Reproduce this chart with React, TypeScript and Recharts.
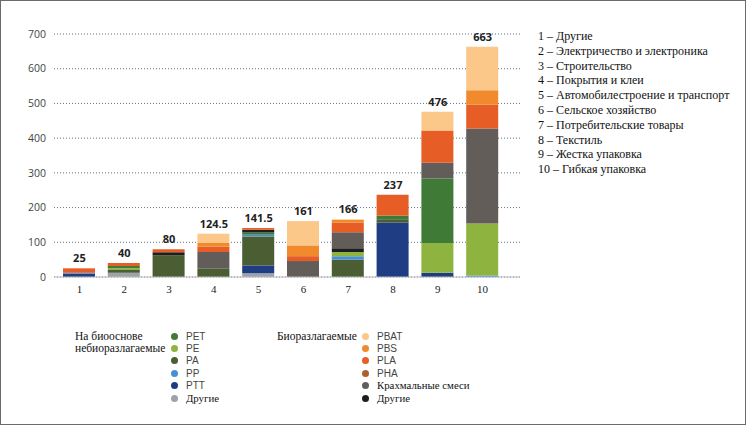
import { Bar, CartesianGrid, ComposedChart, LabelList, Line, XAxis, YAxis } from 'recharts'

const categories = ['1', '2', '3', '4', '5', '6', '7', '8', '9', '10']
const totals = [25, 40, 80, 124.5, 141.5, 161, 166, 237, 476, 663]

// bio-based, non-biodegradable
const nonBioOther = [0, 12, 0, 0, 11, 0, 0, 0, 0, 0]
const ptt = [10, 0, 0, 0, 22, 0, 0, 157, 12, 0]
const pa = [0, 8, 63, 24, 84, 0, 50, 9, 0, 0]
const pp = [2, 0, 0, 0, 5, 0, 10, 0, 0, 4]
const pe = [0, 5, 0, 0, 0, 0, 12, 0, 86, 150]
const pet = [0, 7, 0, 0, 6, 0, 0, 11, 186, 0]
// biodegradable
const bioOther = [0, 0, 8, 0, 8, 0, 11, 0, 0, 0]
const starch = [0, 0, 0, 48, 0, 46, 46, 0, 45, 274]
const pha = [0, 0, 0, 0, 0, 0, 0, 0, 0, 0]
const pla = [13, 8, 9, 16, 5.5, 14, 27, 60, 93, 69]
const pbs = [0, 0, 0, 10, 0, 31, 8, 0, 0, 41]
const pbat = [0, 0, 0, 26.5, 0, 70, 2, 0, 54, 125]

const yTicks = [0, 100, 200, 300, 400, 500, 600, 700]

const sectors = [
  '1 – Другие',
  '2 – Электричество и электроника',
  '3 – Строительство',
  '4 – Покрытия и клеи',
  '5 – Автомобилестроение и транспорт',
  '6 – Сельское хозяйство',
  '7 – Потребительские товары',
  '8 – Текстиль',
  '9 – Жестка упаковка',
  '10 – Гибкая упаковка',
]

const series = [
  { key: 'nonBioOther', name: 'Другие', color: '#9ea2aa', values: nonBioOther },
  { key: 'PTT', name: 'PTT', color: '#1f3d82', values: ptt },
  { key: 'PA', name: 'PA', color: '#4a5d33', values: pa },
  { key: 'PP', name: 'PP', color: '#4a8fd2', values: pp },
  { key: 'PE', name: 'PE', color: '#8fb33f', values: pe },
  { key: 'PET', name: 'PET', color: '#3f7b37', values: pet },
  { key: 'bioOther', name: 'Другие', color: '#1e1e1e', values: bioOther },
  { key: 'starch', name: 'Крахмальные смеси', color: '#625d58', values: starch },
  { key: 'PHA', name: 'PHA', color: '#ad622d', values: pha },
  { key: 'PLA', name: 'PLA', color: '#e65e26', values: pla },
  { key: 'PBS', name: 'PBS', color: '#f08a2c', values: pbs },
  { key: 'PBAT', name: 'PBAT', color: '#fbc889', values: pbat },
]

const data = categories.map((c, i) => {
  const row: Record<string, number | string> = { cat: c, total: totals[i] }
  series.forEach((s) => {
    row[s.key] = s.values[i]
  })
  return row
})

const nonBioLegend = ['PET', 'PE', 'PA', 'PP', 'PTT', 'nonBioOther']
const bioLegend = ['PBAT', 'PBS', 'PLA', 'PHA', 'starch', 'bioOther']

const serif = '"Liberation Serif", "Times New Roman", serif'
const sans = '"Open Sans", "Noto Sans", sans-serif'
const codeFont = '"Liberation Sans", Arial, sans-serif'

function LegendColumn({ keys, left, top }: { keys: string[]; left: number; top: number }) {
  return (
    <div style={{ position: 'absolute', left, top }}>
      {keys.map((k) => {
        const s = series.find((x) => x.key === k)!
        const cyr = /[А-я]/.test(s.name)
        return (
          <div key={k} style={{ height: 12.4, display: 'flex', alignItems: 'center' }}>
            <span
              style={{
                width: 7,
                height: 7,
                borderRadius: '50%',
                background: s.color,
                display: 'inline-block',
                marginRight: 8,
                flexShrink: 0,
              }}
            />
            <span
              style={{
                fontFamily: cyr ? serif : codeFont,
                fontSize: cyr ? 10.8 : 10,
                lineHeight: '11px',
                color: cyr ? '#111' : '#444',
                whiteSpace: 'nowrap',
              }}
            >
              {s.name}
            </span>
          </div>
        )
      })}
    </div>
  )
}

export default function App() {
  return (
    <div
      style={{
        position: 'absolute',
        left: 0,
        top: 0,
        width: 746,
        height: 425,
        boxSizing: 'border-box',
        border: '1px solid #6a6a6a',
        background: '#fff',
        overflow: 'hidden',
      }}
    >
      <div style={{ position: 'absolute', left: -1, top: -1 }}>
        <ComposedChart
          width={746}
          height={307}
          data={data}
          margin={{ top: 34, right: 226, bottom: 0, left: 0 }}
          barCategoryGap={0}
        >
          <CartesianGrid vertical={false} stroke="#5f7389" strokeDasharray="1 2" />
          <XAxis
            dataKey="cat"
            height={30}
            padding={{ left: 3, right: 15 }}
            axisLine={{ stroke: '#bdbdbd' }}
            tickLine={false}
            tick={{ fontFamily: serif, fontSize: 11, fill: '#222' }}
          />
          <YAxis
            width={54}
            domain={[0, 700]}
            ticks={yTicks}
            axisLine={false}
            tickLine={false}
            tick={{ fontFamily: sans, fontSize: 10.5, fill: '#444' }}
          />
          {series.map((s) => (
            <Bar
              key={s.key}
              dataKey={s.key}
              stackId="a"
              fill={s.color}
              barSize={32}
              isAnimationActive={false}
            />
          ))}
          <Line
            dataKey="total"
            stroke="none"
            dot={false}
            activeDot={false}
            isAnimationActive={false}
          >
            <LabelList
              dataKey="total"
              position="top"
              offset={6}
              style={{ fontFamily: sans, fontSize: 11, fontWeight: 700, fill: '#222' }}
            />
          </Line>
        </ComposedChart>
      </div>

      <div
        style={{
          position: 'absolute',
          left: 537,
          top: 28,
          fontFamily: serif,
          fontSize: 12,
          lineHeight: '14.8px',
          color: '#111',
          whiteSpace: 'nowrap',
        }}
      >
        {sectors.map((t) => (
          <div key={t}>{t}</div>
        ))}
      </div>

      <div
        style={{
          position: 'absolute',
          left: 74,
          top: 329,
          fontFamily: serif,
          fontSize: 11.5,
          lineHeight: '12.4px',
          color: '#111',
        }}
      >
        <div>На биооснове</div>
        <div>небиоразлагаемые</div>
      </div>
      <LegendColumn keys={nonBioLegend} left={170} top={329} />

      <div
        style={{
          position: 'absolute',
          left: 276,
          top: 329,
          fontFamily: serif,
          fontSize: 11.5,
          lineHeight: '12.4px',
          color: '#111',
        }}
      >
        Биоразлагаемые
      </div>
      <LegendColumn keys={bioLegend} left={361} top={329} />
    </div>
  )
}
